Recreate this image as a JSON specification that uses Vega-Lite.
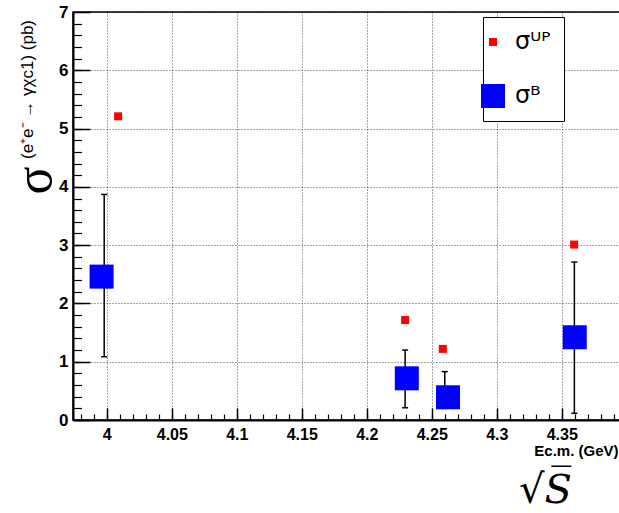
{
  "$schema": "https://vega.github.io/schema/vega-lite/v6.json",
  "autosize": "none",
  "padding": {"left": 73, "top": 12, "right": 0, "bottom": 93},
  "width": 547,
  "height": 408,
  "background": "white",
  "config": {
    "view": {"stroke": "black", "strokeWidth": 1.5},
    "axis": {"labelFont": "Liberation Sans", "titleFont": "Liberation Sans", "labelColor": "black", "titleColor": "black", "domainColor": "black", "tickColor": "black"}
  },
  "datasets": {
    "pts": [
      {"E": 4.0087, "sigma": 5.21, "series": "σᵁᴾ"},
      {"E": 4.2295, "sigma": 1.715, "series": "σᵁᴾ"},
      {"E": 4.2585, "sigma": 1.22, "series": "σᵁᴾ"},
      {"E": 4.3595, "sigma": 3.01, "series": "σᵁᴾ"},
      {"E": 3.996, "sigma": 2.46, "series": "σᴮ", "errE": 3.998, "lo": 1.085, "hi": 3.87},
      {"E": 4.2308, "sigma": 0.715, "series": "σᴮ", "errE": 4.2295, "lo": 0.21, "hi": 1.2},
      {"E": 4.2625, "sigma": 0.39, "series": "σᴮ", "errE": 4.26, "lo": 0.2, "hi": 0.83},
      {"E": 4.36, "sigma": 1.42, "series": "σᴮ", "errE": 4.3597, "lo": 0.115, "hi": 2.71}
    ]
  },
  "resolve": {"axis": {"x": "independent", "y": "independent"}},
  "layer": [
    {
      "data": {"name": "pts"},
      "mark": {"type": "point", "opacity": 0},
      "encoding": {
        "x": {"field": "E", "type": "quantitative", "scale": {"domain": [3.974, 4.3948], "nice": false, "zero": false},
          "axis": {"orient": "bottom", "values": [3.98,3.99,4,4.01,4.02,4.03,4.04,4.05,4.06,4.07,4.08,4.09,4.1,4.11,4.12,4.13,4.14,4.15,4.16,4.17,4.18,4.19,4.2,4.21,4.22,4.23,4.24,4.25,4.26,4.27,4.28,4.29,4.3,4.31,4.32,4.33,4.34,4.35,4.36,4.37,4.38,4.39],
            "tickSize": -6, "tickWidth": 1.2, "labels": false, "domain": false, "grid": false,
            "title": "√S̅", "titleFont": "DejaVu Serif", "titleFontStyle": "italic", "titleFontWeight": "normal", "titleFontSize": 40,
            "titleX": 472, "titleY": 70, "titleAlign": "center", "titleBaseline": "middle"}},
        "y": {"field": "sigma", "type": "quantitative", "scale": {"domain": [0, 7], "nice": false},
          "axis": {"orient": "left", "values": [0.2,0.4,0.6,0.8,1,1.2,1.4,1.6,1.8,2,2.2,2.4,2.6,2.8,3,3.2,3.4,3.6,3.8,4,4.2,4.4,4.6,4.8,5,5.2,5.4,5.6,5.8,6,6.2,6.4,6.6,6.8],
            "tickSize": -8.5, "tickWidth": 1.2, "labels": false, "domain": false, "grid": false,
            "title": "σ", "titleFont": "Liberation Serif", "titleFontWeight": "normal", "titleFontSize": 52, "titleAngle": 270,
            "titleX": -39, "titleY": 168, "titleAlign": "center", "titleBaseline": "middle"}}
      }
    },
    {
      "data": {"name": "pts"},
      "transform": [{"filter": "datum.series == 'σᴮ'"}],
      "mark": {"type": "rule", "color": "black", "strokeWidth": 1.5},
      "encoding": {
        "x": {"field": "errE", "type": "quantitative", "axis": null},
        "y": {"field": "lo", "type": "quantitative", "axis": null},
        "y2": {"field": "hi"}
      }
    },
    {
      "data": {"name": "pts"},
      "transform": [{"filter": "datum.series == 'σᴮ'"}],
      "mark": {"type": "tick", "orient": "horizontal", "color": "black", "size": 6, "thickness": 1.5, "opacity": 1},
      "encoding": {
        "x": {"field": "errE", "type": "quantitative", "axis": null},
        "y": {"field": "lo", "type": "quantitative", "axis": null}
      }
    },
    {
      "data": {"name": "pts"},
      "transform": [{"filter": "datum.series == 'σᴮ'"}],
      "mark": {"type": "tick", "orient": "horizontal", "color": "black", "size": 6, "thickness": 1.5, "opacity": 1},
      "encoding": {
        "x": {"field": "errE", "type": "quantitative", "axis": null},
        "y": {"field": "hi", "type": "quantitative", "axis": null}
      }
    },
    {
      "data": {"name": "pts"},
      "mark": {"type": "square", "filled": true, "opacity": 1},
      "encoding": {
        "x": {"field": "E", "type": "quantitative", "scale": {"domain": [3.974, 4.3948], "nice": false, "zero": false},
          "axis": {"orient": "bottom", "values": [4, 4.05, 4.1, 4.15, 4.2, 4.25, 4.3, 4.35], "format": "~g",
            "tickSize": -12, "tickWidth": 1.5, "domainWidth": 2, "labelPadding": 18, "labelFontSize": 16, "labelFontWeight": "bold",
            "grid": true, "gridColor": "black", "gridDash": [1, 2], "gridOpacity": 0.7, "gridWidth": 1,
            "title": "Ec.m. (GeV)", "titleFontSize": 15, "titleFontWeight": "bold", "titleX": 545, "titleY": 30, "titleAlign": "right", "titleBaseline": "middle"}},
        "y": {"field": "sigma", "type": "quantitative", "scale": {"domain": [0, 7], "nice": false},
          "axis": {"orient": "left", "values": [0, 1, 2, 3, 4, 5, 6, 7], "format": "d",
            "tickSize": -17, "tickWidth": 1.5, "domainWidth": 2, "labelPadding": 22, "labelFontSize": 17, "labelFontWeight": "bold",
            "grid": true, "gridColor": "black", "gridDash": [1, 2], "gridOpacity": 0.7, "gridWidth": 1,
            "title": "(e⁺e⁻ → γχc1) (pb)", "titleFontSize": 17, "titleFontWeight": "normal", "titleAngle": 270,
            "titleX": -46, "titleY": 77, "titleAlign": "center", "titleBaseline": "middle"}},
        "color": {"field": "series", "type": "nominal", "scale": {"domain": ["σᵁᴾ", "σᴮ"], "range": ["#ff0000", "#0000ff"]},
          "legend": {"orient": "none", "legendX": 410, "legendY": 5, "title": null, "fillColor": "white", "strokeColor": "black",
            "padding": 13, "rowPadding": 30, "symbolOffset": -15, "labelOffset": 10, "labelFont": "DejaVu Sans", "labelFontSize": 24,
            "labelColor": "black", "labelExpr": "datum.label + '\u2003\u2002\u2009'", "symbolStrokeWidth": 0}},
        "size": {"field": "series", "type": "nominal", "scale": {"domain": ["σᵁᴾ", "σᴮ"], "range": [64, 576]}}
      }
    }
  ]
}
